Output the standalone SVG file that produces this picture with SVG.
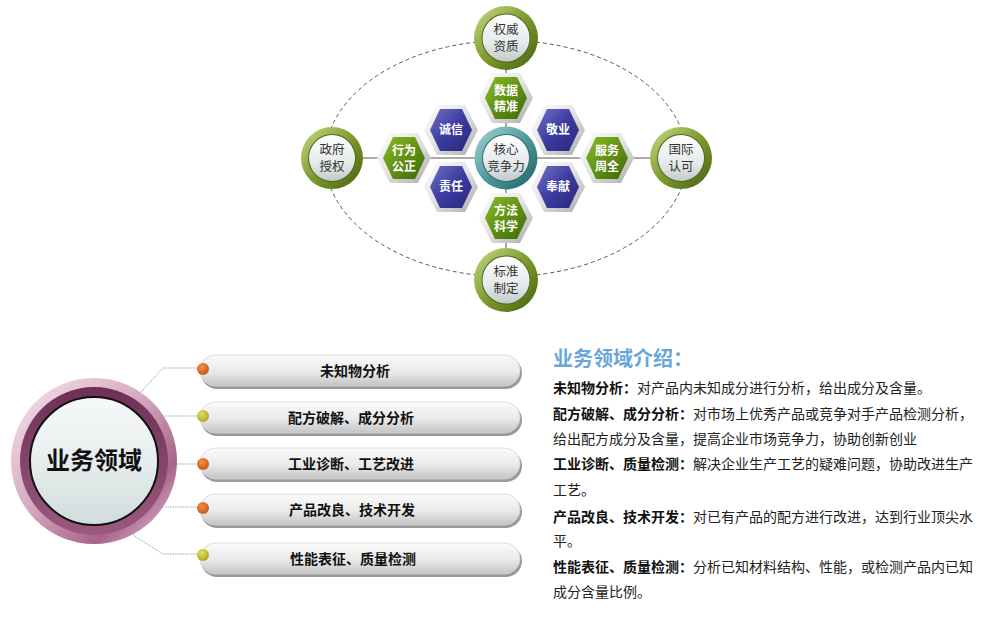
<svg xmlns="http://www.w3.org/2000/svg" width="1007" height="640" viewBox="0 0 1007 640">
<style>
.cf{font-family:"Noto Sans CJK SC","Liberation Sans",sans-serif}
.ct{font-size:12.5px;fill:#333;text-anchor:middle}
.ht{font-size:12px;fill:#fff;font-weight:700;text-anchor:middle}
.pt{font-size:14px;fill:#111;font-weight:700;text-anchor:middle}
.rt{font-size:14px;fill:#222}
.conn{fill:none;stroke:#555;stroke-width:1}
.dash{fill:none;stroke:#555;stroke-width:1;stroke-dasharray:4 3}
.dot{fill:none;stroke:#93a8c0;stroke-width:1;stroke-dasharray:1.5 1}
</style>
<defs>
<linearGradient id="gRing" x1="0" y1="0" x2="1" y2="1">
<stop offset="0" stop-color="#c9dc86"/><stop offset="0.5" stop-color="#7d9a2c"/><stop offset="1" stop-color="#46600e"/>
</linearGradient>
<linearGradient id="tRing" x1="0" y1="0" x2="1" y2="1">
<stop offset="0" stop-color="#a9d6d6"/><stop offset="0.5" stop-color="#4f9a9c"/><stop offset="1" stop-color="#1f5f62"/>
</linearGradient>
<linearGradient id="inner" x1="0" y1="0" x2="0" y2="1">
<stop offset="0" stop-color="#ffffff"/><stop offset="0.6" stop-color="#e6eaea"/><stop offset="1" stop-color="#c3cbcb"/>
</linearGradient>
<linearGradient id="silver" x1="0" y1="0" x2="1" y2="1">
<stop offset="0" stop-color="#ffffff"/><stop offset="0.5" stop-color="#e2e2e2"/><stop offset="1" stop-color="#a9a9a9"/>
</linearGradient>
<linearGradient id="green" x1="0" y1="0" x2="1" y2="1">
<stop offset="0" stop-color="#8cbb24"/><stop offset="1" stop-color="#3a6808"/>
</linearGradient>
<linearGradient id="blue" x1="0" y1="0" x2="1" y2="1">
<stop offset="0" stop-color="#7070c8"/><stop offset="0.5" stop-color="#3c3ca0"/><stop offset="1" stop-color="#26267e"/>
</linearGradient>
<linearGradient id="pinkRing" x1="0" y1="0" x2="1" y2="1">
<stop offset="0" stop-color="#f4e6ee"/><stop offset="0.45" stop-color="#d6a9c0"/><stop offset="0.75" stop-color="#a86389"/><stop offset="1" stop-color="#e9d2de"/>
</linearGradient>
<linearGradient id="plumRing" x1="0" y1="0" x2="0" y2="1">
<stop offset="0" stop-color="#6e2f55"/><stop offset="1" stop-color="#9a5a80"/>
</linearGradient>
<linearGradient id="bigInner" x1="0" y1="0" x2="0" y2="1">
<stop offset="0" stop-color="#f7f9f9"/><stop offset="0.5" stop-color="#e7eded"/><stop offset="1" stop-color="#d2dcdc"/>
</linearGradient>
<linearGradient id="pill" x1="0" y1="0" x2="0" y2="1">
<stop offset="0" stop-color="#fbfbfb"/><stop offset="0.55" stop-color="#e9e9e9"/><stop offset="1" stop-color="#c4c4c4"/>
</linearGradient>
<radialGradient id="orange" cx="0.4" cy="0.35" r="0.7">
<stop offset="0" stop-color="#f0904a"/><stop offset="1" stop-color="#c85414"/>
</radialGradient>
<radialGradient id="olive" cx="0.4" cy="0.35" r="0.7">
<stop offset="0" stop-color="#e4e058"/><stop offset="1" stop-color="#aaa41a"/>
</radialGradient>
<path id="hexO" d="M-27,0 L-14,-25 L14,-25 L27,0 L14,25 L-14,25 Z"/>
<path id="hexI" d="M-21,0 L-11,-21 L11,-21 L21,0 L11,21 L-11,21 Z"/>
</defs>
<rect width="1007" height="640" fill="#fff"/>

<g id="connectors">
<ellipse class="dash" cx="506" cy="158.5" rx="181" ry="118"/>
<line class="conn" x1="332" y1="158" x2="681" y2="158"/>
<line class="conn" x1="506" y1="38" x2="506" y2="280"/>
<polyline class="dot" points="141,392 163,368 197,368"/>
<polyline class="dot" points="165,416 197,416"/>
<polyline class="dot" points="177,464 197,464"/>
<polyline class="dot" points="165,507 197,507"/>
<polyline class="dot" points="133,535 163,554 197,554"/>
</g>

<g id="n-quanwei" transform="translate(506,38)">
<circle r="32" fill="url(#gRing)"/><circle r="24.5" fill="#55681f"/><circle r="23.5" fill="url(#inner)"/>
<text class="cf ct" y="-4">权威</text><text class="cf ct" y="13">资质</text>
</g>
<g id="n-biaozhun" transform="translate(506,280)">
<circle r="32" fill="url(#gRing)"/><circle r="24.5" fill="#55681f"/><circle r="23.5" fill="url(#inner)"/>
<text class="cf ct" y="-4">标准</text><text class="cf ct" y="13">制定</text>
</g>
<g id="n-zhengfu" transform="translate(332,158)">
<circle r="31" fill="url(#gRing)"/><circle r="24" fill="#55681f"/><circle r="23" fill="url(#inner)"/>
<text class="cf ct" y="-4">政府</text><text class="cf ct" y="13">授权</text>
</g>
<g id="n-guoji" transform="translate(681,158)">
<circle r="31" fill="url(#gRing)"/><circle r="24" fill="#55681f"/><circle r="23" fill="url(#inner)"/>
<text class="cf ct" y="-4">国际</text><text class="cf ct" y="13">认可</text>
</g>

<g id="n-shuju" transform="translate(506,98)">
<use href="#hexO" fill="url(#silver)"/><use href="#hexI" fill="url(#green)"/>
<text class="cf ht" y="-3">数据</text><text class="cf ht" y="13">精准</text>
</g>
<g id="n-fangfa" transform="translate(506,218)">
<use href="#hexO" fill="url(#silver)"/><use href="#hexI" fill="url(#green)"/>
<text class="cf ht" y="-3">方法</text><text class="cf ht" y="13">科学</text>
</g>
<g id="n-xingwei" transform="translate(404,158)">
<use href="#hexO" fill="url(#silver)"/><use href="#hexI" fill="url(#green)"/>
<text class="cf ht" y="-3">行为</text><text class="cf ht" y="13">公正</text>
</g>
<g id="n-fuwu" transform="translate(607,158)">
<use href="#hexO" fill="url(#silver)"/><use href="#hexI" fill="url(#green)"/>
<text class="cf ht" y="-3">服务</text><text class="cf ht" y="13">周全</text>
</g>
<g id="n-chengxin" transform="translate(451,130)">
<use href="#hexO" fill="url(#silver)"/><use href="#hexI" fill="url(#blue)"/>
<text class="cf ht" y="4">诚信</text>
</g>
<g id="n-jingye" transform="translate(558,130)">
<use href="#hexO" fill="url(#silver)"/><use href="#hexI" fill="url(#blue)"/>
<text class="cf ht" y="4">敬业</text>
</g>
<g id="n-zeren" transform="translate(451,187)">
<use href="#hexO" fill="url(#silver)"/><use href="#hexI" fill="url(#blue)"/>
<text class="cf ht" y="4">责任</text>
</g>
<g id="n-fengxian" transform="translate(558,187)">
<use href="#hexO" fill="url(#silver)"/><use href="#hexI" fill="url(#blue)"/>
<text class="cf ht" y="4">奉献</text>
</g>

<g id="n-hexin" transform="translate(506,158)">
<circle r="31.5" fill="url(#tRing)"/><circle r="24" fill="#2f6e70"/><circle r="23" fill="url(#inner)"/>
<text class="cf ct" y="-4">核心</text><text class="cf ct" y="13">竞争力</text>
</g>

<g id="n-yewu" transform="translate(94,461)">
<circle r="83" fill="url(#pinkRing)"/>
<circle r="74" fill="url(#plumRing)"/>
<circle r="64" fill="url(#bigInner)" stroke="#111" stroke-width="2"/>
<text class="cf" y="8" font-size="24" font-weight="700" fill="#111" text-anchor="middle">业务领域</text>
</g>

<g id="p1">
<rect x="201" y="357" width="321" height="32" rx="16" fill="#9a9a9a"/>
<rect x="200" y="355" width="320" height="31" rx="15.5" fill="url(#pill)" stroke="#d4d4d4" stroke-width="0.8"/>
<circle cx="203" cy="369" r="6" fill="url(#orange)"/>
<text class="cf pt" x="355" y="376">未知物分析</text>
</g>
<g id="p2">
<rect x="201" y="404" width="321" height="32" rx="16" fill="#9a9a9a"/>
<rect x="200" y="402" width="320" height="31" rx="15.5" fill="url(#pill)" stroke="#d4d4d4" stroke-width="0.8"/>
<circle cx="203" cy="416" r="6" fill="url(#olive)"/>
<text class="cf pt" x="351" y="423">配方破解、成分分析</text>
</g>
<g id="p3">
<rect x="201" y="450" width="321" height="32" rx="16" fill="#9a9a9a"/>
<rect x="200" y="448" width="320" height="31" rx="15.5" fill="url(#pill)" stroke="#d4d4d4" stroke-width="0.8"/>
<circle cx="203" cy="464" r="6" fill="url(#orange)"/>
<text class="cf pt" x="351" y="469">工业诊断、工艺改进</text>
</g>
<g id="p4">
<rect x="201" y="496" width="321" height="32" rx="16" fill="#9a9a9a"/>
<rect x="200" y="494" width="320" height="31" rx="15.5" fill="url(#pill)" stroke="#d4d4d4" stroke-width="0.8"/>
<circle cx="203" cy="508" r="6" fill="url(#orange)"/>
<text class="cf pt" x="352" y="515">产品改良、技术开发</text>
</g>
<g id="p5">
<rect x="201" y="545" width="321" height="32" rx="16" fill="#9a9a9a"/>
<rect x="200" y="543" width="320" height="31" rx="15.5" fill="url(#pill)" stroke="#d4d4d4" stroke-width="0.8"/>
<circle cx="203" cy="555" r="6" fill="url(#olive)"/>
<text class="cf pt" x="353" y="564">性能表征、质量检测</text>
</g>

<g id="intro">
<text class="cf" x="553" y="366" font-size="20" font-weight="700" fill="#6aa6dc">业务领域介绍：</text>
<text class="cf rt" x="553" y="393"><tspan font-weight="700" fill="#111">未知物分析：</tspan>对产品内未知成分进行分析，给出成分及含量。</text>
<text class="cf rt" x="553" y="419"><tspan font-weight="700" fill="#111">配方破解、成分分析：</tspan>对市场上优秀产品或竞争对手产品检测分析，</text>
<text class="cf rt" x="553" y="444">给出配方成分及含量，提高企业市场竞争力，协助创新创业</text>
<text class="cf rt" x="553" y="469"><tspan font-weight="700" fill="#111">工业诊断、质量检测：</tspan>解决企业生产工艺的疑难问题，协助改进生产</text>
<text class="cf rt" x="553" y="495">工艺。</text>
<text class="cf rt" x="553" y="522"><tspan font-weight="700" fill="#111">产品改良、技术开发：</tspan>对已有产品的配方进行改进，达到行业顶尖水</text>
<text class="cf rt" x="553" y="546">平。</text>
<text class="cf rt" x="553" y="572"><tspan font-weight="700" fill="#111">性能表征、质量检测：</tspan>分析已知材料结构、性能，或检测产品内已知</text>
<text class="cf rt" x="553" y="597">成分含量比例。</text>
</g>
</svg>
